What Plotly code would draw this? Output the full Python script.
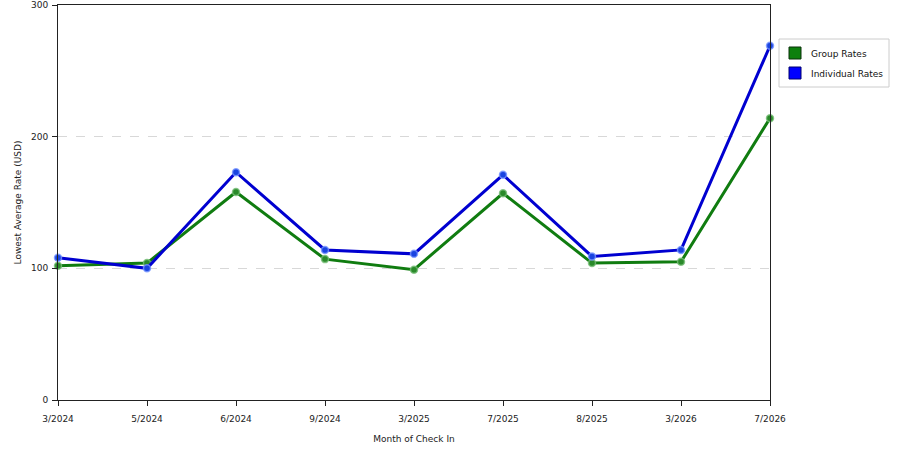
import plotly.graph_objects as go

months = ["3/2024", "5/2024", "6/2024", "9/2024", "3/2025", "7/2025", "8/2025", "3/2026", "7/2026"]
group_rates = [102, 104, 158, 107, 99, 157, 104, 105, 214]
individual_rates = [108, 100, 173, 114, 111, 171, 109, 114, 269]

series_names = ["Group Rates", "Individual Rates"]
swatch_colors = ["#0d800d", "#0000ff"]

green = "#107c10"
blue = "#0000d0"

fig = go.Figure()

fig.add_trace(go.Scatter(x=months, y=group_rates, mode="lines+markers", name=series_names[0],
                         cliponaxis=False,
                         line=dict(color=green, width=3),
                         marker=dict(size=7, color="#2a8a2a", line=dict(color="rgba(120,190,120,0.8)", width=1.5))))
fig.add_trace(go.Scatter(x=months, y=individual_rates, mode="lines+markers", name=series_names[1],
                         cliponaxis=False,
                         line=dict(color=blue, width=3),
                         marker=dict(size=7, color="#1a44e0", line=dict(color="rgba(120,150,255,0.8)", width=1.5))))

# hand-made legend box on the right (plot area is 712 x 395 px)
def px_x(p):
    return (p - 58) / 712.0

def px_y(p):
    return (400 - p) / 395.0

fig.add_shape(type="rect", xref="paper", yref="paper",
              x0=px_x(779), x1=px_x(889), y0=px_y(87), y1=px_y(39),
              line=dict(color="#cccccc", width=1), fillcolor="white")
for i, (name, col) in enumerate(zip(series_names, swatch_colors)):
    top = 47 + 20 * i
    fig.add_shape(type="rect", xref="paper", yref="paper",
                  x0=px_x(789), x1=px_x(801), y0=px_y(top + 12), y1=px_y(top),
                  line=dict(color="#0a300a" if i == 0 else "#000070", width=1), fillcolor=col)
    fig.add_annotation(x=px_x(809), y=px_y(top + 7), xref="paper", yref="paper",
                       text=name, showarrow=False, xanchor="left", yanchor="middle",
                       font=dict(size=9, color="#111111"))

fig.update_layout(
    width=900, height=450,
    margin=dict(l=58, r=130, t=5, b=50, autoexpand=False),
    paper_bgcolor="white", plot_bgcolor="white",
    font=dict(family="Verdana, DejaVu Sans, sans-serif", size=9, color="#222222"),
    showlegend=False,
)
fig.update_xaxes(
    type="category", range=[0, len(months) - 1], automargin=False,
    showline=True, linecolor="#222222", linewidth=1, mirror=True,
    ticks="outside", ticklen=5, tickcolor="#222222", ticklabelstandoff=5,
    showgrid=False, zeroline=False,
    title=dict(text="Month of Check In", standoff=12, font=dict(size=9)),
)
fig.update_yaxes(
    range=[0, 300], tickvals=[0, 100, 200, 300], automargin=False,
    showline=True, linecolor="#222222", linewidth=1, mirror=True,
    ticks="outside", ticklen=5, tickcolor="#222222", ticklabelstandoff=2,
    showgrid=True, gridcolor="#d8d8d8", griddash="dash", gridwidth=1,
    zeroline=False,
    title=dict(text="Lowest Average Rate (USD)", standoff=7, font=dict(size=9)),
)

# drop the browser's default body margin so the figure sits at the page corner
fig.write_html("out.html", config={"displayModeBar": False},
               post_script="document.body.style.margin='0';")
